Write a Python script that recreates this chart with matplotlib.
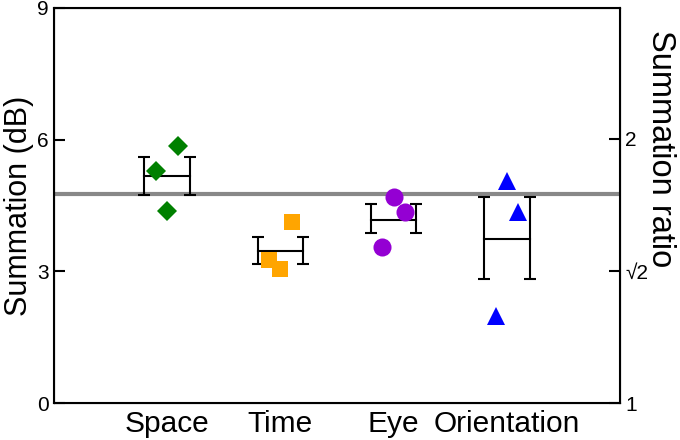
import numpy as np
import matplotlib.pyplot as plt

plt.rcParams['font.family'] = ['Liberation Sans', 'DejaVu Sans']

conditions = ['Space', 'Time', 'Eye', 'Orientation']
colors = ['#008000', '#FFA500', '#9400D3', '#0000FF']
markers = ['D', 's', 'o', '^']
marker_sizes = [10.5, 11, 13, 13.5]

# individual observers (dB), with small horizontal jitter
points = [
    [5.28, 4.38, 5.85],
    [3.26, 3.05, 4.12],
    [3.55, 4.70, 4.36],
    [1.99, 5.06, 4.36],
]
jitter = [-0.1, 0.0, 0.1]

# group means and error bars (dB)
means = [5.17, 3.47, 4.18, 3.74]
err_hi = [5.60, 3.79, 4.53, 4.69]
err_lo = [4.75, 3.16, 3.88, 2.82]

reference_db = 10 * np.log10(3)

ratio_labels = ['1', '\u221a2', '2']
ratio_values = [1, np.sqrt(2), 2]


def main():
    fig = plt.figure(figsize=(6.8, 4.4), dpi=100)
    ax = fig.add_axes([0.079, 0.084, 0.833, 0.898])

    ax.axhline(reference_db, color='#888888', lw=3, zorder=1)

    xs = np.arange(1, len(conditions) + 1)
    for x, pts, c, m, ms in zip(xs, points, colors, markers, marker_sizes):
        ax.plot(x + np.array(jitter), pts, linestyle='none', marker=m,
                color=c, markersize=ms, markeredgewidth=0, zorder=3)

    half = 0.2
    for x, mu, hi, lo in zip(xs, means, err_hi, err_lo):
        for xe in (x - half, x + half):
            ax.errorbar(xe, mu, yerr=[[mu - lo], [hi - mu]], fmt='none',
                        ecolor='black', elinewidth=1.5, capsize=4.5,
                        capthick=1.5, zorder=2)
        ax.plot([x - half, x + half], [mu, mu], color='black', lw=1.5, zorder=2)

    ax.set_xlim(0, 5)
    ax.set_ylim(0, 9)
    ax.set_yticks([0, 3, 6, 9])
    ax.set_xticks(xs)
    ax.set_xticklabels(conditions, fontsize=21.5)
    ax.tick_params(axis='x', length=0, pad=5)
    ax.tick_params(axis='y', direction='in', length=8, width=1.5, labelsize=15)
    ax.set_ylabel('Summation (dB)', fontsize=22, labelpad=2)
    for s in ax.spines.values():
        s.set_linewidth(1.5)

    ax2 = ax.twinx()
    ax2.set_ylim(0, 9)
    ax2.set_yticks([20 * np.log10(r) for r in ratio_values])
    ax2.set_yticklabels(ratio_labels)
    ax2.tick_params(axis='y', direction='in', length=8, width=1.5, labelsize=15)
    ax2.set_ylabel('Summation ratio', fontsize=23.5, rotation=270, va='center')
    ax2.yaxis.set_label_coords(1.072, 0.643)

    fig.savefig('out.png', dpi=100)


if __name__ == "__main__":
    main()
